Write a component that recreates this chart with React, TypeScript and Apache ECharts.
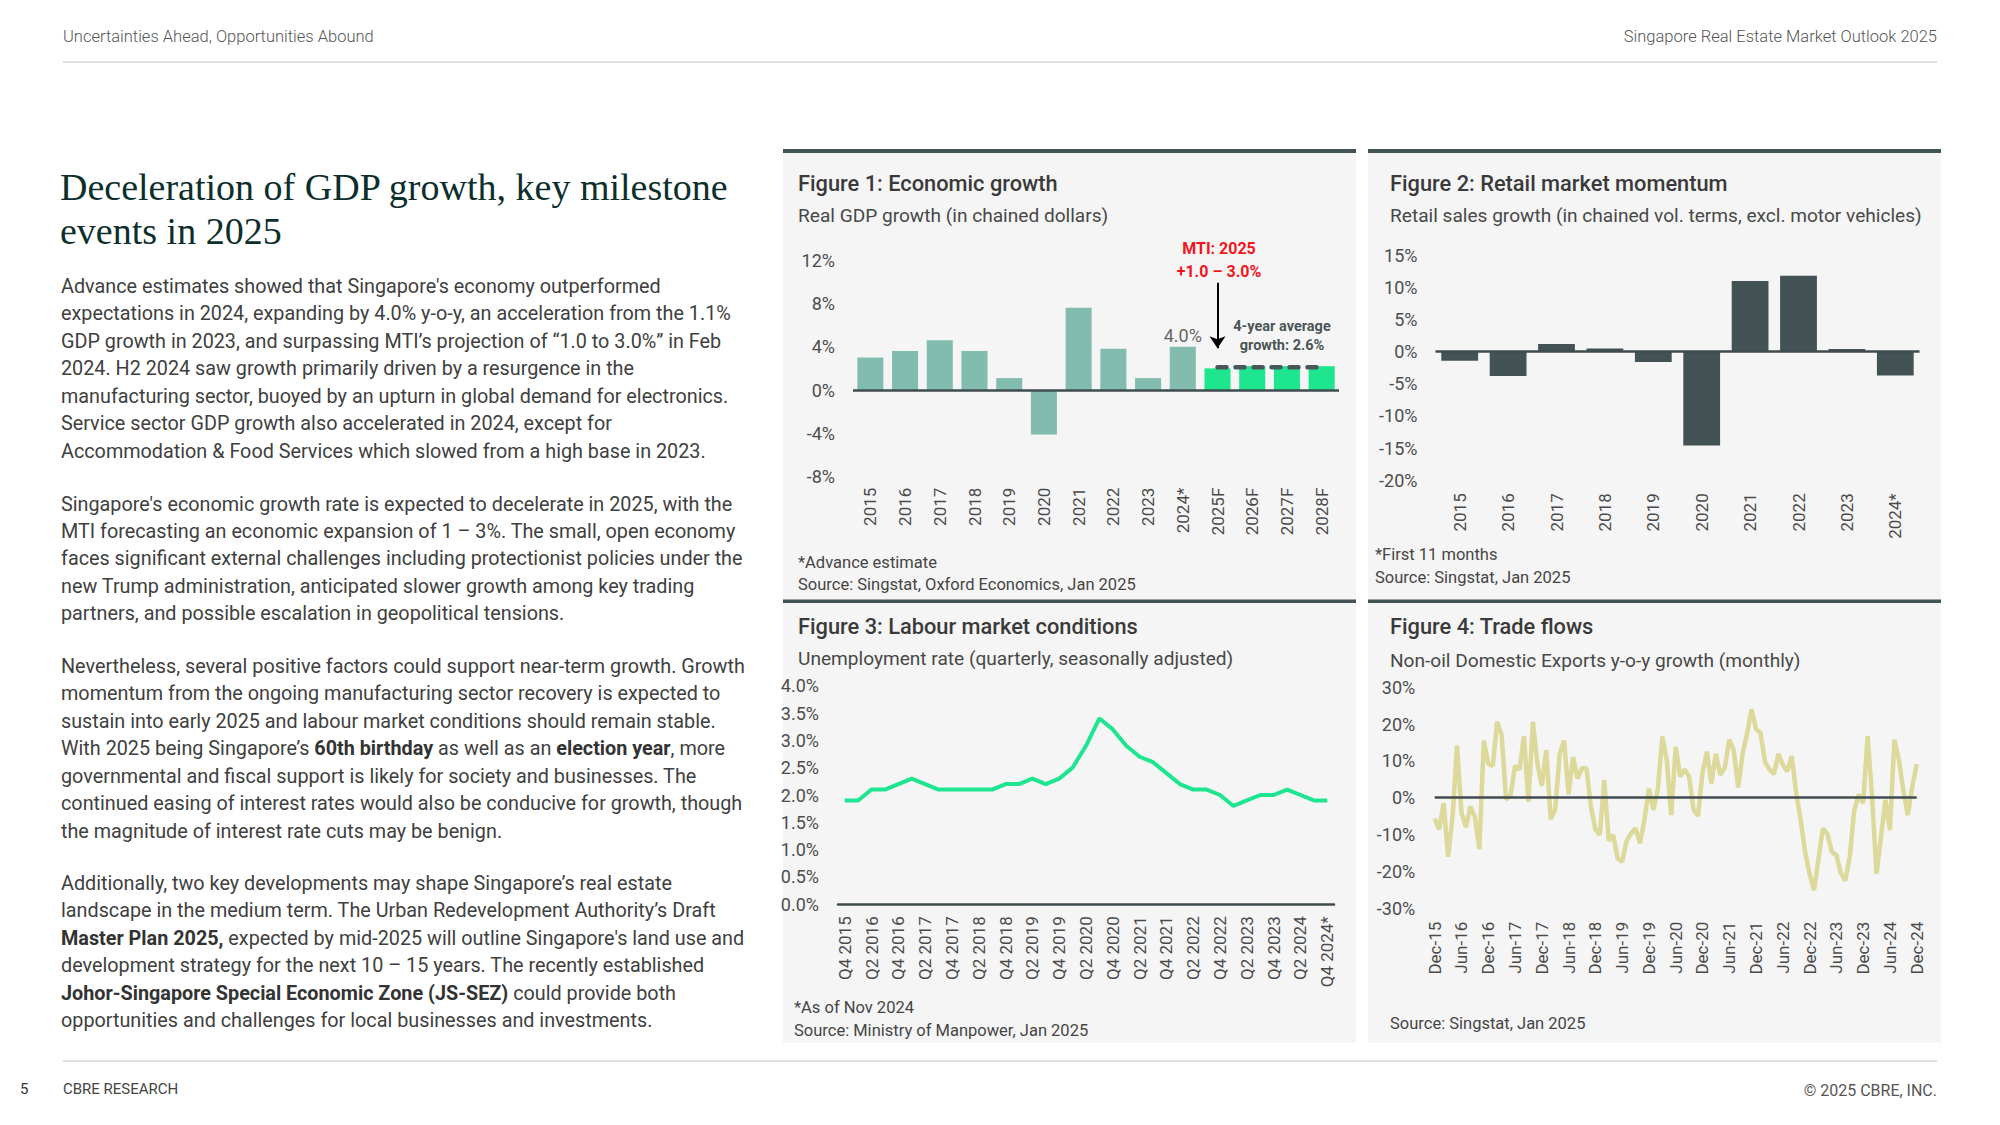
import React, { useEffect, useRef } from "react";
import * as echarts from "echarts";

// ---------- DATA ----------
const gdpYears = ["2015", "2016", "2017", "2018", "2019", "2020", "2021", "2022", "2023", "2024*", "2025F", "2026F", "2027F", "2028F"];
const gdpGrowth = [3.0, 3.6, 4.6, 3.6, 1.1, -4.1, 7.6, 3.8, 1.1, 4.0, 2.0, 2.2, 2.2, 2.2];
const gdpAverageLine = [null, null, null, null, null, null, null, null, null, null, 2.1, 2.1, 2.1, 2.1];

const retailYears = ["2015", "2016", "2017", "2018", "2019", "2020", "2021", "2022", "2023", "2024*"];
const retailGrowth = [-1.4, -3.8, 1.2, 0.5, -1.6, -14.6, 11.0, 11.8, 0.4, -3.7];

const quarterLabels: string[] = (() => {
  const out = ["Q4 2015"];
  for (let y = 2016; y <= 2024; y++) for (let q = 1; q <= 4; q++) out.push(`Q${q} ${y}`);
  out[out.length - 1] = out[out.length - 1] + "*";
  return out;
})();
const unemploymentRate = [
  1.9, 1.9, 2.1, 2.1, 2.2, 2.3, 2.2, 2.1, 2.1, 2.1,
  2.1, 2.1, 2.2, 2.2, 2.3, 2.2, 2.3, 2.5, 2.9, 3.4,
  3.2, 2.9, 2.7, 2.6, 2.4, 2.2, 2.1, 2.1, 2.0, 1.8,
  1.9, 2.0, 2.0, 2.1, 2.0, 1.9, 1.9,
];

const monthNames = ["Jan", "Feb", "Mar", "Apr", "May", "Jun", "Jul", "Aug", "Sep", "Oct", "Nov", "Dec"];
const monthLabels: string[] = (() => {
  const out = ["Dec-15"];
  for (let y = 16; y <= 24; y++) for (let m = 0; m < 12; m++) out.push(`${monthNames[m]}-${y}`);
  return out;
})();
const nodxGrowth = [
  -5.6, -8.6, -1.5, -16, -5.2, 14.1, -4.1, -8, -2.4, -5.2,
  -14, 15.5, 9.3, 8.6, 20.6, 17, -0.5, 0.7, 8.6, 7.7,
  16.7, -1.1, 20.6, 9.3, 3.2, 12.9, -5.9, -3.2, 11.9, 15.5,
  0.9, 11, 5.2, 8, 8, -2.4, -8.6, -10.1, 4.8, -11.7,
  -10.1, -16.5, -17.4, -11.7, -9.7, -8.3, -12.4, -5.9, 2.5, -3.3,
  2.3, 16.6, 10.2, -4.7, 13.8, 5.7, 7.7, 5.7, -3.2, -5.0,
  6.8, 12.5, 3.9, 11.9, 6.2, 8.2, 15.8, 12.9, 2.8, 12,
  17.5, 24, 18.6, 17.6, 9.8, 7.7, 6.4, 11.9, 8.9, 7.1,
  11.3, 1.2, -6.1, -14.7, -20.7, -25.1, -16.5, -8.3, -9.9, -14.7,
  -15.6, -20.4, -22.5, -16, -3.5, 0.9, -1.5, 16.7, 0.3, -20.7,
  -10.6, -0.6, -8.8, 15.7, 10.4, 2.1, -4.7, 3, 9.1,
];

const paragraphs: string[][] = [
  [
    "Advance estimates showed that Singapore's economy outperformed",
    "expectations in 2024, expanding by 4.0% y-o-y, an acceleration from the 1.1%",
    "GDP growth in 2023, and surpassing MTI’s projection of “1.0 to 3.0%” in Feb",
    "2024. H2 2024 saw growth primarily driven by a resurgence in the",
    "manufacturing sector, buoyed by an upturn in global demand for electronics.",
    "Service sector GDP growth also accelerated in 2024, except for",
    "Accommodation & Food Services which slowed from a high base in 2023.",
  ],
  [
    "Singapore's economic growth rate is expected to decelerate in 2025, with the",
    "MTI forecasting an economic expansion of 1 – 3%. The small, open economy",
    "faces significant external challenges including protectionist policies under the",
    "new Trump administration, anticipated slower growth among key trading",
    "partners, and possible escalation in geopolitical tensions.",
  ],
  [
    "Nevertheless, several positive factors could support near-term growth. Growth",
    "momentum from the ongoing manufacturing sector recovery is expected to",
    "sustain into early 2025 and labour market conditions should remain stable.",
    "With 2025 being Singapore’s {b|60th birthday} as well as an {b|election year}, more",
    "governmental and fiscal support is likely for society and businesses. The",
    "continued easing of interest rates would also be conducive for growth, though",
    "the magnitude of interest rate cuts may be benign.",
  ],
  [
    "Additionally, two key developments may shape Singapore’s real estate",
    "landscape in the medium term. The Urban Redevelopment Authority’s Draft",
    "{b|Master Plan 2025,} expected by mid-2025 will outline Singapore's land use and",
    "development strategy for the next 10 – 15 years. The recently established",
    "{b|Johor-Singapore Special Economic Zone (JS-SEZ)} could provide both",
    "opportunities and challenges for local businesses and investments.",
  ],
];
const paragraphStartY = [286.5, 504, 666.5, 883.5];

// ---------- STYLE ----------
const FONT = "Roboto, 'Noto Sans', sans-serif";
const SERIF = "'Liberation Serif', 'DejaVu Serif', serif";
const DARK = "#435254";
const PANEL_BG = "#f5f5f5";
const TEXT = "#444444";
const HIST = "#82bcae";
const FORECAST = "#1de68f";
const GREEN = "#1de590";
const KHAKI = "#dcd99b";
const BODY_SIZE = 19.8;

function buildOption(): any {
  const graphic: any[] = [];
  const txt = (x: number, y: number, text: string, o: any = {}) =>
    graphic.push({
      type: "text",
      x,
      y,
      z: 10,
      silent: true,
      style: {
        text,
        fontFamily: FONT,
        fontSize: 18,
        fill: TEXT,
        textAlign: "left",
        textVerticalAlign: "middle",
        ...o,
      },
    });

  // header / footer
  txt(63, 36, "Uncertainties Ahead, Opportunities Abound", { fontSize: 16.5, fill: "#555", fontWeight: 300 });
  txt(1937, 36, "Singapore Real Estate Market Outlook 2025", { fontSize: 16.5, fill: "#555", fontWeight: 300, textAlign: "right" });
  graphic.push({ type: "line", silent: true, shape: { x1: 63, y1: 62, x2: 1937, y2: 62 }, style: { stroke: "#d2d8d8", lineWidth: 1.5 } });
  graphic.push({ type: "line", silent: true, shape: { x1: 63, y1: 1061, x2: 1937, y2: 1061 }, style: { stroke: "#d2d8d8", lineWidth: 1.5 } });
  txt(20, 1089, "5", { fontSize: 15, fill: "#333" });
  txt(63, 1089, "CBRE RESEARCH", { fontSize: 15, fill: "#444" });
  txt(1937, 1090, "© 2025 CBRE, INC.", { fontSize: 16, fill: "#555", textAlign: "right" });

  // title
  txt(60, 187, "Deceleration of GDP growth, key milestone", { fontFamily: SERIF, fontSize: 38, fill: "#0c2e2c" });
  txt(60, 231, "events in 2025", { fontFamily: SERIF, fontSize: 38, fill: "#0c2e2c" });

  // body paragraphs
  paragraphs.forEach((lines, p) => {
    lines.forEach((line, i) => {
      txt(61, paragraphStartY[p] + i * 27.45, line, {
        fontSize: BODY_SIZE,
        fill: "#404040",
        rich: { b: { fontFamily: FONT, fontSize: BODY_SIZE, fontWeight: "bold", fill: "#333" } },
      });
    });
  });

  // panels
  const panels = [
    { x: 783, y: 149, h: 454 },
    { x: 1368, y: 149, h: 454 },
    { x: 783, y: 603, h: 440 },
    { x: 1368, y: 603, h: 440 },
  ];
  panels.forEach((p) => {
    graphic.push({ type: "rect", silent: true, z: -5, shape: { x: p.x, y: p.y, width: 573, height: p.h }, style: { fill: PANEL_BG } });
  });
  [783, 1368].forEach((x) => {
    graphic.push({ type: "rect", silent: true, z: -4, shape: { x, y: 149, width: 573, height: 4 }, style: { fill: DARK } });
    graphic.push({ type: "rect", silent: true, z: -4, shape: { x, y: 599.5, width: 573, height: 3.5 }, style: { fill: DARK } });
  });

  const figTitle = { fontSize: 21.8, fontWeight: 500, fill: "#3a3a3a" };
  const figSub = { fontSize: 19.1, fill: "#484848" };
  const foot = { fontSize: 16.5, fill: "#454545" };

  txt(798, 183, "Figure 1: Economic growth", figTitle);
  txt(798, 215, "Real GDP growth (in chained dollars)", figSub);
  txt(798, 562, "*Advance estimate", foot);
  txt(798, 584, "Source: Singstat, Oxford Economics, Jan 2025", foot);

  txt(1390, 183, "Figure 2: Retail market momentum", figTitle);
  txt(1390, 215, "Retail sales growth (in chained vol. terms, excl. motor vehicles)", figSub);
  txt(1375, 554, "*First 11 months", foot);
  txt(1375, 577, "Source: Singstat, Jan 2025", foot);

  txt(798, 626, "Figure 3: Labour market conditions", figTitle);
  txt(798, 658, "Unemployment rate (quarterly, seasonally adjusted)", figSub);
  txt(794, 1007, "*As of Nov 2024", foot);
  txt(794, 1030, "Source: Ministry of Manpower, Jan 2025", foot);

  txt(1390, 626, "Figure 4: Trade flows", figTitle);
  txt(1390, 660, "Non-oil Domestic Exports y-o-y growth (monthly)", figSub);
  txt(1390, 1023, "Source: Singstat, Jan 2025", foot);

  // fig 1 annotations
  txt(1219, 248, "MTI: 2025", { fontSize: 16, fontWeight: "bold", fill: "#f2161c", textAlign: "center" });
  txt(1219, 271.5, "+1.0 – 3.0%", { fontSize: 16, fontWeight: "bold", fill: "#f2161c", textAlign: "center" });
  txt(1282, 326, "4-year average", { fontSize: 14.5, fontWeight: "bold", fill: "#4b5557", textAlign: "center" });
  txt(1282, 345, "growth: 2.6%", { fontSize: 14.5, fontWeight: "bold", fill: "#4b5557", textAlign: "center" });

  const yLabel = (fmt: any, margin: number) => ({
    fontFamily: FONT,
    fontSize: 18,
    color: "#4d4d4d",
    margin,
    formatter: fmt,
  });
  const xLabel = (margin: number, interval: number) => ({
    fontFamily: FONT,
    fontSize: 17,
    color: "#4a4a4a",
    rotate: 90,
    margin,
    interval,
  });
  const baseY = { type: "value", splitLine: { show: false }, axisLine: { show: false }, axisTick: { show: false } };
  const zeroLine = {
    silent: true,
    symbol: "none",
    label: { show: false },
    lineStyle: { color: "#3f4d4f", width: 2.5, type: "solid" },
    data: [{ yAxis: 0 }],
  };

  return {
    animation: false,
    textStyle: { fontFamily: FONT },
    grid: [
      { left: 853, top: 260, width: 486, height: 216.7 },
      { left: 1435.5, top: 255.2, width: 484, height: 225.1 },
      { left: 838, top: 685.7, width: 496, height: 218.6 },
      { left: 1434.7, top: 687.2, width: 482, height: 221 },
    ],
    xAxis: [
      { gridIndex: 0, type: "category", data: gdpYears, axisLine: { show: false }, axisTick: { show: false }, axisLabel: xLabel(11, 0) },
      { gridIndex: 1, type: "category", data: retailYears, axisLine: { show: false }, axisTick: { show: false }, axisLabel: xLabel(13, 0) },
      {
        gridIndex: 2,
        type: "category",
        data: quarterLabels,
        boundaryGap: true,
        axisLine: { show: true, lineStyle: { color: "#3f4d4f", width: 2.5 } },
        axisTick: { show: false },
        axisLabel: xLabel(12, 1),
      },
      { gridIndex: 3, type: "category", data: monthLabels, boundaryGap: false, axisLine: { show: false }, axisTick: { show: false }, axisLabel: xLabel(13.5, 5) },
    ],
    yAxis: [
      { ...baseY, gridIndex: 0, min: -8, max: 12, interval: 4, axisLabel: yLabel("{value}%", 18) },
      { ...baseY, gridIndex: 1, min: -20, max: 15, interval: 5, axisLabel: yLabel("{value}%", 18) },
      { ...baseY, gridIndex: 2, min: 0, max: 4, interval: 0.5, axisLabel: yLabel((v: number) => v.toFixed(1) + "%", 19) },
      { ...baseY, gridIndex: 3, min: -30, max: 30, interval: 10, axisLabel: yLabel("{value}%", 19.5) },
    ],
    series: [
      {
        type: "bar",
        xAxisIndex: 0,
        yAxisIndex: 0,
        barCategoryGap: "25%",
        data: gdpGrowth.map((v, i) => ({
          value: v,
          itemStyle: { color: gdpYears[i].endsWith("F") ? FORECAST : HIST },
          label:
            gdpYears[i] === "2024*"
              ? { show: true, position: "top", distance: 2, formatter: v.toFixed(1) + "%", fontFamily: FONT, fontSize: 18, color: "#666" }
              : { show: false },
        })),
        markLine: zeroLine,
      },
      {
        type: "line",
        xAxisIndex: 0,
        yAxisIndex: 0,
        data: gdpAverageLine,
        symbol: "none",
        z: 5,
        lineStyle: { color: "#48585a", width: 4.5, type: [9, 9], cap: "round" },
        markLine: {
          silent: true,
          symbol: ["none", "arrow"],
          symbolSize: [12, 12],
          label: { show: false },
          lineStyle: { color: "#000", width: 2, type: "solid" },
          data: [[{ coord: ["2025F", 9.9] }, { coord: ["2025F", 3.85] }]],
        },
      },
      {
        type: "bar",
        xAxisIndex: 1,
        yAxisIndex: 1,
        barCategoryGap: "24%",
        itemStyle: { color: DARK },
        data: retailGrowth,
        markLine: zeroLine,
      },
      {
        type: "line",
        xAxisIndex: 2,
        yAxisIndex: 2,
        data: unemploymentRate,
        symbol: "none",
        lineStyle: { color: GREEN, width: 4 },
      },
      {
        type: "line",
        xAxisIndex: 3,
        yAxisIndex: 3,
        data: nodxGrowth,
        symbol: "none",
        lineStyle: { color: KHAKI, width: 4.5 },
        markLine: zeroLine,
      },
    ],
    graphic: { elements: graphic },
  };
}

export default function App() {
  const ref = useRef<HTMLDivElement>(null);
  useEffect(() => {
    document.body.style.margin = "0";
    const chart = echarts.init(ref.current!, null, { renderer: "svg" });
    chart.setOption(buildOption());
    return () => chart.dispose();
  }, []);
  return <div ref={ref} style={{ width: 2000, height: 1125, background: "#fff" }} />;
}
